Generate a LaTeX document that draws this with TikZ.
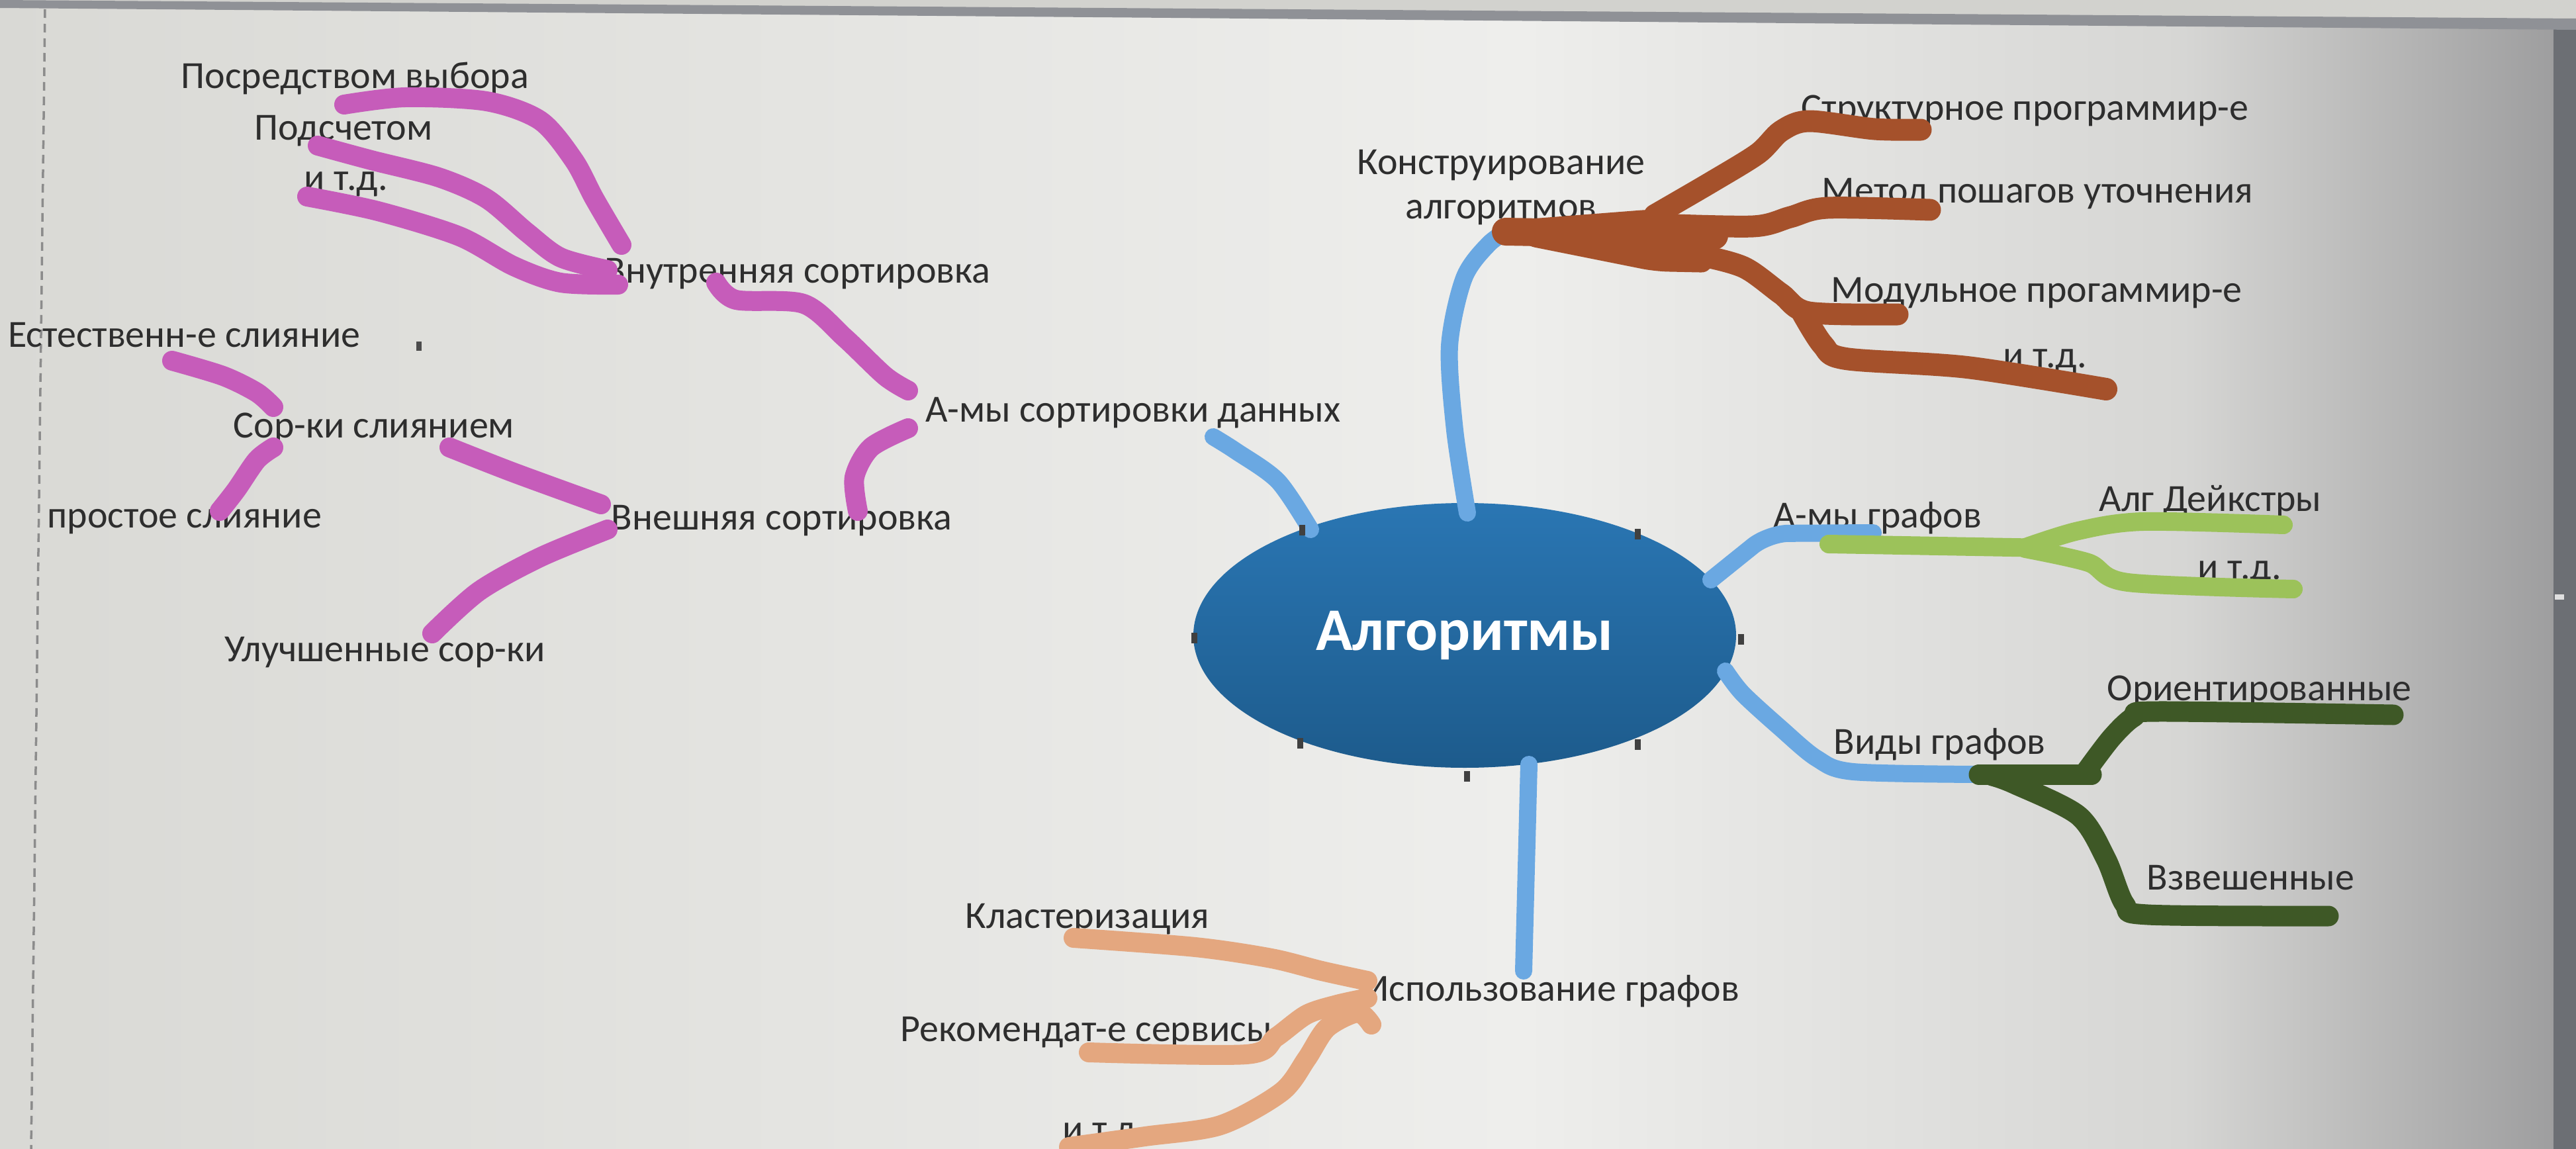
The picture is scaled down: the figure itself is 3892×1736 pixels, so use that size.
\documentclass[tikz,border=0pt]{standalone}
\usepackage{fontspec}
\setmainfont{Carlito}
\usetikzlibrary{shapes.geometric}
\definecolor{txt}{HTML}{2E2E2E}
\definecolor{bgL}{HTML}{D9D9D5}
\definecolor{bgM}{HTML}{EEEEEC}
\definecolor{bgR}{HTML}{D6D6D4}
\definecolor{bgRR}{HTML}{9E9E9F}
\definecolor{edgeg}{HTML}{6C6F74}
\definecolor{bandg}{HTML}{8F9196}
\definecolor{topg}{HTML}{D2D2CE}
\definecolor{ellT}{HTML}{2A76B3}
\definecolor{ellB}{HTML}{1D5B8C}
\definecolor{cblue}{HTML}{6AA8E2}
\definecolor{cpurple}{HTML}{C65CBA}
\definecolor{cbrown}{HTML}{A5512B}
\definecolor{clgreen}{HTML}{9CC25A}
\definecolor{cdgreen}{HTML}{3E5826}
\definecolor{corange}{HTML}{E4A77F}
\begin{document}
\begin{tikzpicture}[x=0.1mm,y=-0.1mm,
  lbl/.style={anchor=base west, inner sep=0, text=txt, font=\fontsize{16.5}{19.1}\selectfont},
  pen/.style={line cap=round, line join=round},
  blueline/.style={pen, draw=cblue, line width=2.6mm},
  purpline/.style={pen, draw=cpurple, line width=3.0mm},
  brownline/.style={pen, draw=cbrown, line width=3.3mm},
  lgline/.style={pen, draw=clgreen, line width=2.8mm},
  dgline/.style={pen, draw=cdgreen, line width=3.1mm},
  orline/.style={pen, draw=corange, line width=3.0mm},
  hdl/.style={fill=black!75, minimum width=0.9mm, minimum height=1.6mm, inner sep=0}]
\useasboundingbox (0,0) rectangle (3892,1736);
% background (photographed screen)
\shade[left color=bgL, right color=bgM] (0,0) rectangle (2300,1736);
\shade[left color=bgM, right color=bgR] (2300,0) rectangle (3300,1736);
\shade[left color=bgR, right color=bgRR] (3300,0) rectangle (3858,1736);
\fill[edgeg] (3858,0) rectangle (3892,1736);
\fill[topg] (0,0) -- (3892,0) -- (3892,30) -- cycle;
\fill[bandg] (0,0) -- (3892,28) -- (3892,45) -- (0,12) -- cycle;
\fill[white!75!gray] (3860,898) rectangle (3874,906);
\draw[black!45, line width=0.35mm, dash pattern=on 1.3mm off 0.9mm] (68,14) -- (47,1736);
\fill[black!70] (629,516) rectangle (637,530);

% labels
\node[lbl] (nPosr)  at (273,133)  {Посредством выбора};
\node[lbl] (nPods)  at (384,211)  {Подсчетом};
\node[lbl] (nEtc1)  at (459,287)  {и т.д.};
\node[lbl] (nVnutr) at (913,427)  {Внутренняя сортировка};
\node[lbl] (nEst)   at (12,524)   {Естественн-е слияние};
\node[lbl] (nSorSl) at (352,661)  {Сор-ки слиянием};
\node[lbl] (nProst) at (71,797)   {простое слияние};
\node[lbl] (nVnesh) at (923,800)  {Внешняя сортировка};
\node[lbl] (nSort)  at (1398,637) {А-мы сортировки данных};
\node[lbl] (nUluch) at (339,999)  {Улучшенные сор-ки};
\node[lbl] (nKlast) at (1458,1402){Кластеризация};
\node[lbl] (nRekom) at (1360,1573){Рекомендат-е сервисы};
\node[lbl] (nEtc4)  at (1605,1724){и т.д.};
\node[lbl] (nIspol) at (2061,1512){Использование графов};
\node[lbl, anchor=center, align=center] (nKonstr) at (2268,283) {Конструирование\\алгоритмов};
\node[lbl] (nStrukt) at (2721,181) {Структурное программир-е};
\node[lbl] (nMetod)  at (2752,306) {Метод пошагов уточнения};
\node[lbl] (nModul)  at (2766,456) {Модульное прогаммир-е};
\node[lbl] (nEtc2)   at (3026,555) {и т.д.};
\node[lbl] (nDeik)   at (3171,772) {Алг Дейкстры};
\node[lbl] (nAgraf)  at (2679,797) {А-мы графов};
\node[lbl] (nEtc3)   at (3320,875) {и т.д.};
\node[lbl] (nOrient) at (3183,1058){Ориентированные};
\node[lbl] (nVidy)   at (2770,1139){Виды графов};
\node[lbl] (nVzv)    at (3243,1344){Взвешенные};

% central ellipse
\node[ellipse, minimum width=82mm, minimum height=40mm, inner sep=0, top color=ellT, bottom color=ellB,
      text=white, font=\bfseries\fontsize{26}{30}\selectfont] (alg) at (2213,960) {Алгоритмы};

% named ends / junctions
\coordinate (b1s) at (1980,800);  \coordinate (b1e) at (1833,660);
\coordinate (b2s) at (2217,775);  \coordinate (kJ)  at (2287,343);
\coordinate (b3s) at (2585,876);  \coordinate (aJ)  at (2830,805);
\coordinate (b4s) at (2607,1014); \coordinate (vJ)  at (2990,1170);
\coordinate (b5s) at (2310,1155); \coordinate (iJ)  at (2302,1467);
\coordinate (brS) at (2275,350);  \coordinate (brE) at (2590,356);

% blue connectors from the centre
\draw[blueline] plot[smooth] coordinates {(b1s) (1931,727) (1868,682) (b1e)};
\draw[blueline] plot[smooth] coordinates {(b2s) (2198,650) (2190,523) (2212,420) (2250,368) (kJ)};
\draw[blueline, rounded corners=3mm] (b3s) -- (2672,806) -- (aJ);
\draw[blueline] plot[smooth] coordinates {(b4s) (2633,1048) (2690,1100) (2745,1146) (2800,1166) (vJ)};
\draw[blueline] (b5s) -- (iJ);

% brown (Конструирование алгоритмов)
\fill[cbrown, rounded corners=2mm] (2268,334) -- (2500,316) -- (2575,345) -- (2590,412) -- (2500,410) -- (2300,370) -- cycle;
\draw[brownline, line width=4.2mm] (brS) -- (brE);
\draw[brownline] plot[smooth] coordinates {(2500,325) (2586,275) (2656,232) (2691,198) (2733,183) (2832,195) (2902,196)};
\draw[brownline] plot[smooth] coordinates {(2502,339) (2649,342) (2705,328) (2761,314) (2916,317)};
\draw[brownline] plot[smooth] coordinates {(2520,380) (2565,385) (2635,404) (2691,444) (2733,472) (2867,475)};
\draw[brownline, line width=3.4mm] plot[smooth] coordinates {(2722,470) (2754,521) (2789,542) (2972,555) (3182,588)};

% light green (А-мы графов)
\draw[lgline] (2763,822) -- (3095,828);
\draw[lgline] plot[smooth] coordinates {(3060,827) (3140,802) (3238,788) (3450,793)};
\draw[lgline] plot[smooth] coordinates {(3060,829) (3155,850) (3215,880) (3465,890)};

% dark green (Виды графов)
\draw[dgline] (vJ) -- (3160,1170);
\draw[dgline] plot[smooth] coordinates {(3150,1168) (3190,1115) (3224,1083) (3260,1075) (3616,1080)};
\draw[dgline] plot[smooth] coordinates {(3010,1172) (3043,1184) (3140,1232) (3182,1298) (3210,1366) (3245,1382) (3518,1384)};

% orange (Использование графов)
\draw[orline] plot[smooth] coordinates {(1622,1417) (1806,1431) (1921,1448) (1997,1467) (2066,1482)};
\draw[orline] plot[smooth] coordinates {(1645,1590) (1883,1593) (1928,1567) (1974,1533) (2020,1518) (2066,1508)};
\draw[orline] plot[smooth] coordinates {(1615,1733) (1730,1717) (1844,1700) (1936,1650) (1974,1600) (2005,1553) (2051,1530) (2072,1548)};

% purple (сортировка)
\draw[purpline] plot[smooth] coordinates {(520,158) (612,147) (735,153) (816,182) (867,242) (898,300) (939,370)};
\draw[purpline] plot[smooth] coordinates {(480,220) (561,242) (663,268) (735,300) (796,351) (847,389) (918,408)};
\draw[purpline] plot[smooth] coordinates {(464,297) (571,319) (694,357) (776,402) (847,427) (934,430)};
\draw[purpline] plot[smooth] coordinates {(1082,427) (1112,453) (1214,459) (1276,510) (1337,568) (1372,590)};
\draw[purpline] plot[smooth] coordinates {(1296,772) (1291,721) (1316,676) (1372,647)};
\draw[purpline] plot[smooth] coordinates {(260,545) (337,568) (388,593) (413,615)};
\draw[purpline] plot[smooth] coordinates {(413,676) (388,695) (357,740) (332,772)};
\draw[purpline] plot[smooth] coordinates {(679,676) (776,714) (908,762)};
\draw[purpline] plot[smooth] coordinates {(918,800) (816,842) (724,893) (653,957)};

% selection handles on the ellipse
\node[hdl] (h1) at (1967,801) {};
\node[hdl] (h2) at (2474,807) {};
\node[hdl] (h3) at (1804,964) {};
\node[hdl] (h4) at (2630,966) {};
\node[hdl] (h5) at (1964,1123) {};
\node[hdl] (h6) at (2474,1125) {};
\node[hdl] (h7) at (2216,1173) {};
\end{tikzpicture}
\end{document}
